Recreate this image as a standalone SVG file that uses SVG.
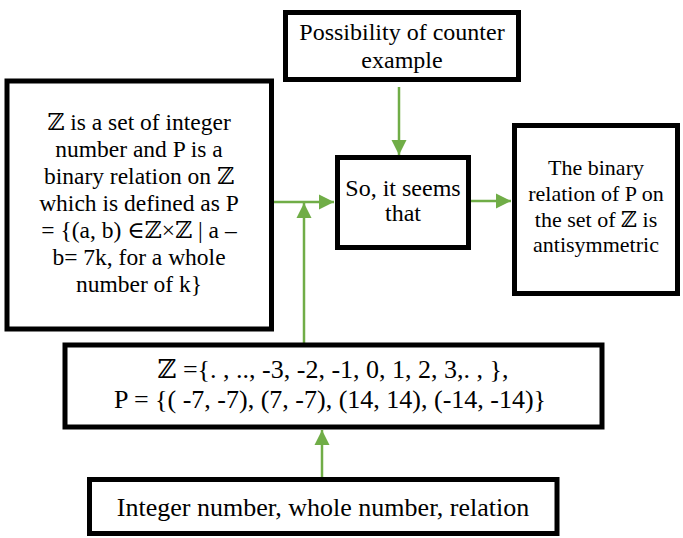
<svg xmlns="http://www.w3.org/2000/svg" width="683" height="538" viewBox="0 0 683 538">
<defs>
<style>
.box{fill:#fff;stroke:#000;stroke-width:5}
.t{font-family:"Liberation Serif","DejaVu Serif",serif;fill:#000;text-anchor:middle}
.f24{font-size:24px}
.f235{font-size:23.5px}
.f22{font-size:22px}
.f26{font-size:26px}
.c{stroke:#70AD47;stroke-width:2.5;fill:none}
</style>
<marker id="ah" markerUnits="userSpaceOnUse" markerWidth="16" markerHeight="16" viewBox="0 0 16 16" refX="15" refY="8" orient="auto">
<path d="M0,0.5 L15,8 L0,15.5 Z" fill="#70AD47"/>
</marker>
</defs>
<g id="connectors">
<line class="c" x1="399" y1="87" x2="399" y2="155" marker-end="url(#ah)"/>
<line class="c" x1="272" y1="202" x2="334" y2="202" marker-end="url(#ah)"/>
<line class="c" x1="304" y1="343" x2="304" y2="203" marker-end="url(#ah)"/>
<line class="c" x1="471" y1="201" x2="511" y2="201" marker-end="url(#ah)"/>
<line class="c" x1="322" y1="477" x2="322" y2="430" marker-end="url(#ah)"/>
</g>
<g id="top">
<rect class="box" x="285.5" y="12.5" width="233" height="67"/>
<text class="t f24" x="402" y="40">Possibility of counter</text>
<text class="t f24" x="402" y="68">example</text>
</g>
<g id="left">
<rect class="box" x="7" y="81" width="264.5" height="248"/>
<text class="t f235" x="139" y="130">ℤ is a set of integer</text>
<text class="t f235" x="139" y="157">number and P is a</text>
<text class="t f235" x="139" y="184">binary relation on ℤ</text>
<text class="t f235" x="139" y="211">which is defined as P</text>
<text class="t f235" x="139" y="238">= {(a, b) ∈ℤ×ℤ | a –</text>
<text class="t f235" x="139" y="265">b= 7k, for a whole</text>
<text class="t f235" x="139" y="292">number of k}</text>
</g>
<g id="middle">
<rect class="box" x="337.5" y="157.5" width="131" height="90"/>
<text class="t f24" x="403" y="196">So, it seems</text>
<text class="t f24" x="403" y="221">that</text>
</g>
<g id="right">
<rect class="box" x="514.5" y="125.5" width="163" height="168"/>
<text class="t f22" x="596" y="175">The binary</text>
<text class="t f22" x="596" y="201">relation of P on</text>
<text class="t f22" x="596" y="227">the set of ℤ is</text>
<text class="t f22" x="596" y="252">antisymmetric</text>
</g>
<g id="sets">
<rect class="box" x="65" y="345" width="537" height="82"/>
<text class="t f26" x="333" y="378">ℤ ={. , .., -3, -2, -1, 0, 1, 2, 3,. , },</text>
<text class="t f26" x="330" y="408">P = {( -7, -7), (7, -7), (14, 14), (-14, -14)}</text>
</g>
<g id="keywords">
<rect class="box" x="89.5" y="479.5" width="467.5" height="54"/>
<text class="t f26" x="323" y="516">Integer number, whole number, relation</text>
</g>
</svg>
